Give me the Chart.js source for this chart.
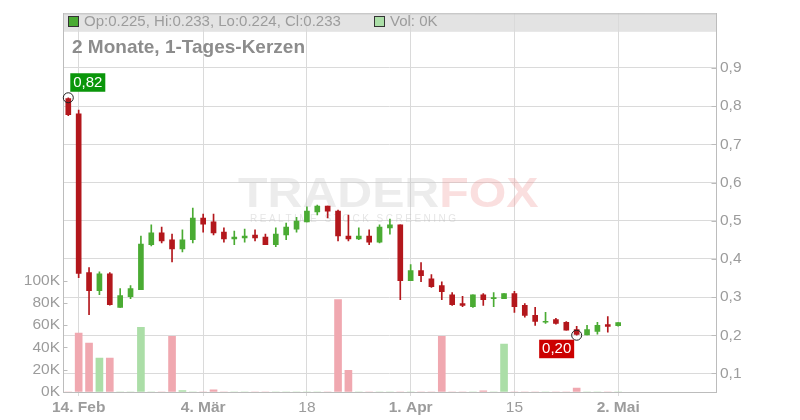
<!DOCTYPE html>
<html>
<head>
<meta charset="utf-8">
<script src="https://cdn.jsdelivr.net/npm/chart.js@4.4.1/dist/chart.umd.min.js"></script>
<style>
  html, body { margin: 0; padding: 0; background: #fff; }
</style>
</head>
<body>
<canvas id="chart" width="800" height="420"></canvas>
<script>
const FONT = "'Liberation Sans', Arial, sans-serif";
const RED = '#b3171c';
const GREEN = '#4aab33';
const RED_VOL = '#f0a8b0';
const GREEN_VOL = '#abdea7';
const GRID = '#dadada';
const AXIS = '#bcbcbc';
const TEXT = '#9c9c9c';

// daily candles, index 0 = 13. Feb
const opens = [
  0.820, 0.780, 0.364, 0.317, 0.361, 0.273, 0.301, 0.319, 0.437, 0.468,
  0.450, 0.426, 0.450, 0.507, 0.497, 0.470, 0.452, 0.455, 0.462, 0.457,
  0.437, 0.463, 0.478, 0.497, 0.523, 0.538, 0.525, 0.460, 0.452, 0.460,
  0.444, 0.481, 0.489, 0.343, 0.369, 0.348, 0.330, 0.306, 0.283, 0.275,
  0.306, 0.296, 0.296, 0.309, 0.278, 0.252, 0.234, 0.241, 0.234, 0.215,
  0.201, 0.210, 0.228, 0.225
];
const highs = [
  0.822, 0.790, 0.377, 0.366, 0.364, 0.322, 0.330, 0.460, 0.489, 0.483,
  0.465, 0.476, 0.533, 0.517, 0.517, 0.481, 0.473, 0.478, 0.476, 0.465,
  0.481, 0.494, 0.509, 0.536, 0.541, 0.538, 0.528, 0.515, 0.481, 0.476,
  0.489, 0.504, 0.489, 0.385, 0.390, 0.359, 0.340, 0.312, 0.302, 0.306,
  0.309, 0.312, 0.309, 0.315, 0.283, 0.273, 0.260, 0.244, 0.236, 0.223,
  0.226, 0.234, 0.249, 0.233
];
const lows = [
  0.775, 0.351, 0.254, 0.306, 0.279, 0.273, 0.296, 0.319, 0.434, 0.442,
  0.392, 0.418, 0.442, 0.470, 0.463, 0.444, 0.437, 0.444, 0.447, 0.437,
  0.432, 0.450, 0.470, 0.497, 0.515, 0.507, 0.447, 0.447, 0.450, 0.437,
  0.442, 0.465, 0.293, 0.343, 0.340, 0.325, 0.293, 0.278, 0.275, 0.273,
  0.278, 0.275, 0.296, 0.260, 0.247, 0.226, 0.231, 0.229, 0.213, 0.200,
  0.201, 0.203, 0.208, 0.224
];
const closes = [
  0.778, 0.362, 0.317, 0.361, 0.280, 0.304, 0.322, 0.439, 0.468, 0.447,
  0.426, 0.450, 0.507, 0.491, 0.468, 0.452, 0.457, 0.460, 0.455, 0.437,
  0.465, 0.483, 0.499, 0.525, 0.538, 0.525, 0.460, 0.452, 0.460, 0.444,
  0.483, 0.489, 0.343, 0.369, 0.356, 0.327, 0.314, 0.280, 0.278, 0.306,
  0.293, 0.298, 0.309, 0.275, 0.252, 0.236, 0.236, 0.231, 0.213, 0.202,
  0.215, 0.226, 0.223, 0.233
];
// volume in thousands
const volumes = [
  0, 53, 44, 30.5, 30.5, 0, 0, 58, 0, 0,
  50, 1.2, 0, 0, 2, 0, 0, 0, 0, 0,
  0, 0, 0, 0, 0, 0, 83, 19.5, 0, 0,
  0, 0, 0, 0, 0, 0, 50, 0, 0, 0,
  1, 0, 43, 0, 0, 0, 0, 0, 0, 3.6,
  0, 0, 0, 0
];

const dateTicks = [1, 13, 23, 33, 43, 53];
const dateLabels = ['14. Feb', '4. Mär', '18', '1. Apr', '15', '2. Mai'];
const boldDates = [1, 13, 33, 53];
const priceTicks = [0.1, 0.2, 0.3, 0.4, 0.5, 0.6, 0.7, 0.8, 0.9];
const volumeTicks = [0, 20, 40, 60, 80, 100];

const isUp = i => closes[i] >= opens[i];
const candleIdx = opens.map((_, i) => i);

function toComma(value, digits) {
  return value.toFixed(digits).replace('.', ',');
}

const decorations = {
  id: 'decorations',
  beforeDraw(chart) {
    const { ctx, chartArea: a } = chart;
    ctx.save();
    ctx.fillStyle = '#e3e3e3';
    ctx.fillRect(a.left, a.top, a.right - a.left, 18.5);
    ctx.restore();
  },
  beforeDatasetsDraw(chart) {
    const { ctx } = chart;
    ctx.save();
    ctx.font = 'bold 42px ' + FONT;
    ctx.textBaseline = 'alphabetic';
    ctx.translate(238, 207);
    ctx.scale(1.15, 1);
    ctx.fillStyle = 'rgba(200,200,200,0.35)';
    ctx.fillText('TRADER', 0, 0);
    const w = ctx.measureText('TRADER').width;
    ctx.fillStyle = 'rgba(240,150,150,0.3)';
    ctx.fillText('FOX', w, 0);
    ctx.restore();

    ctx.save();
    ctx.font = '10px ' + FONT;
    ctx.letterSpacing = '2.5px';
    ctx.fillStyle = 'rgba(190,190,190,0.4)';
    ctx.textBaseline = 'middle';
    ctx.fillText('REALTIME STOCK SCREENING', 250, 219);
    ctx.restore();
  },
  afterDraw(chart) {
    const { ctx, chartArea: a, scales } = chart;
    const x = scales.x;
    const price = scales.price;
    const vol = scales.vol;
    ctx.save();

    // top border of plot
    ctx.strokeStyle = AXIS;
    ctx.lineWidth = 1;
    ctx.beginPath();
    ctx.moveTo(a.left, a.top + 0.5);
    ctx.lineTo(a.right, a.top + 0.5);
    ctx.stroke();

    // inward tick marks
    ctx.beginPath();
    volumeTicks.forEach(v => {
      const y = Math.round(vol.getPixelForValue(v)) + 0.5;
      ctx.moveTo(a.left, y);
      ctx.lineTo(a.left + 4.5, y);
    });
    priceTicks.forEach(v => {
      const y = Math.round(price.getPixelForValue(v)) + 0.5;
      ctx.moveTo(a.right - 4.5, y);
      ctx.lineTo(a.right, y);
    });
    ctx.stroke();

    // legend line
    const last = opens.length - 1;
    ctx.font = '15px ' + FONT;
    ctx.textBaseline = 'middle';
    ctx.fillStyle = GREEN;
    ctx.fillRect(68.5, 16.5, 10, 10);
    ctx.strokeStyle = '#333';
    ctx.strokeRect(68.5, 16.5, 10, 10);
    ctx.fillStyle = TEXT;
    ctx.fillText(
      'Op:' + opens[last].toFixed(3) + ', Hi:' + highs[last].toFixed(3) +
        ', Lo:' + lows[last].toFixed(3) + ', Cl:' + closes[last].toFixed(3),
      84,
      21.5
    );
    ctx.fillStyle = GREEN_VOL;
    ctx.fillRect(374.5, 16.5, 10, 10);
    ctx.strokeRect(374.5, 16.5, 10, 10);
    ctx.fillStyle = TEXT;
    ctx.fillText('Vol: ' + Math.round(volumes[last]) + 'K', 390, 21.5);

    // title
    ctx.font = 'bold 19px ' + FONT;
    ctx.fillStyle = '#8c8c8c';
    ctx.fillText('2 Monate, 1-Tages-Kerzen', 72, 48);

    // max / min markers
    const hiIdx = highs.indexOf(Math.max(...highs));
    const loIdx = lows.indexOf(Math.min(...lows));
    const hx = x.getPixelForValue(hiIdx);
    const hy = price.getPixelForValue(highs[hiIdx]);
    const lx = x.getPixelForValue(loIdx);
    const ly = price.getPixelForValue(lows[loIdx]);

    ctx.strokeStyle = '#222';
    ctx.lineWidth = 1;
    [[hx, hy], [lx, ly]].forEach(([cx, cy]) => {
      ctx.beginPath();
      ctx.arc(cx, cy, 5, 0, Math.PI * 2);
      ctx.stroke();
    });

    ctx.font = '15px ' + FONT;
    ctx.textAlign = 'center';
    ctx.fillStyle = '#0a960a';
    ctx.fillRect(hx + 2, hy - 24.5, 35, 18.5);
    ctx.fillStyle = '#fff';
    ctx.fillText(toComma(highs[hiIdx], 2), hx + 19.5, hy - 15);

    ctx.fillStyle = '#cc0000';
    ctx.fillRect(lx - 37.5, ly + 4.5, 35, 18.5);
    ctx.fillStyle = '#fff';
    ctx.fillText(toComma(lows[loIdx], 2), lx - 20, ly + 14);

    ctx.restore();
  },
};

new Chart(document.getElementById('chart'), {
  type: 'bar',
  data: {
    datasets: [
      {
        label: 'Volumen',
        yAxisID: 'vol',
        data: volumes.map((v, i) => ({ x: i, y: v })),
        backgroundColor: candleIdx.map(i => (isUp(i) ? GREEN_VOL : RED_VOL)),
        barThickness: 7,
        grouped: false,
        order: 3,
      },
      {
        label: 'Docht',
        yAxisID: 'price',
        data: candleIdx.map(i => ({ x: i, y: [lows[i], highs[i]] })),
        backgroundColor: candleIdx.map(i => (isUp(i) ? GREEN : RED)),
        barThickness: 1,
        grouped: false,
        order: 2,
      },
      {
        label: 'Kerze',
        yAxisID: 'price',
        data: candleIdx.map(i => ({ x: i, y: [opens[i], closes[i]] })),
        backgroundColor: candleIdx.map(i => (isUp(i) ? GREEN : RED)),
        barThickness: 5,
        minBarLength: 1,
        grouped: false,
        order: 1,
      },
    ],
  },
  options: {
    responsive: false,
    animation: false,
    layout: { padding: { top: 11, left: 0, right: 0, bottom: 0 } },
    plugins: {
      legend: { display: false },
      tooltip: { enabled: false },
    },
    scales: {
      x: {
        type: 'linear',
        offset: false,
        min: -0.51,
        max: 62.43,
        afterBuildTicks: scale => {
          scale.ticks = dateTicks.map(v => ({ value: v }));
        },
        afterFit: scale => {
          scale.height = 28;
        },
        grid: {
          offset: false,
          color: GRID,
          tickLength: 4,
        },
        border: { color: AXIS },
        ticks: {
          autoSkip: false,
          maxRotation: 0,
          padding: 2,
          color: TEXT,
          font: ctx => ({
            family: FONT,
            size: 15.5,
            weight: ctx.tick && boldDates.includes(ctx.tick.value) ? 'bold' : 'normal',
          }),
          callback: (value, index) => dateLabels[index],
        },
      },
      vol: {
        type: 'linear',
        position: 'left',
        min: 0,
        max: 340.2,
        afterBuildTicks: scale => {
          scale.ticks = volumeTicks.map(v => ({ value: v }));
        },
        afterFit: scale => {
          scale.width = 63;
        },
        grid: { drawOnChartArea: false, drawTicks: false },
        border: { color: AXIS },
        ticks: {
          padding: 3,
          color: TEXT,
          font: { family: FONT, size: 15.5 },
          callback: value => value + 'K',
        },
      },
      price: {
        type: 'linear',
        position: 'right',
        min: 0.0513,
        max: 1.0432,
        afterBuildTicks: scale => {
          scale.ticks = priceTicks.map(v => ({ value: v }));
        },
        afterFit: scale => {
          scale.width = 84;
        },
        grid: { color: GRID, drawTicks: false },
        border: { color: AXIS },
        ticks: {
          padding: 4,
          color: TEXT,
          font: { family: FONT, size: 15.5 },
          callback: value => toComma(value, 1),
        },
      },
    },
  },
  plugins: [decorations],
});
</script>
</body>
</html>
